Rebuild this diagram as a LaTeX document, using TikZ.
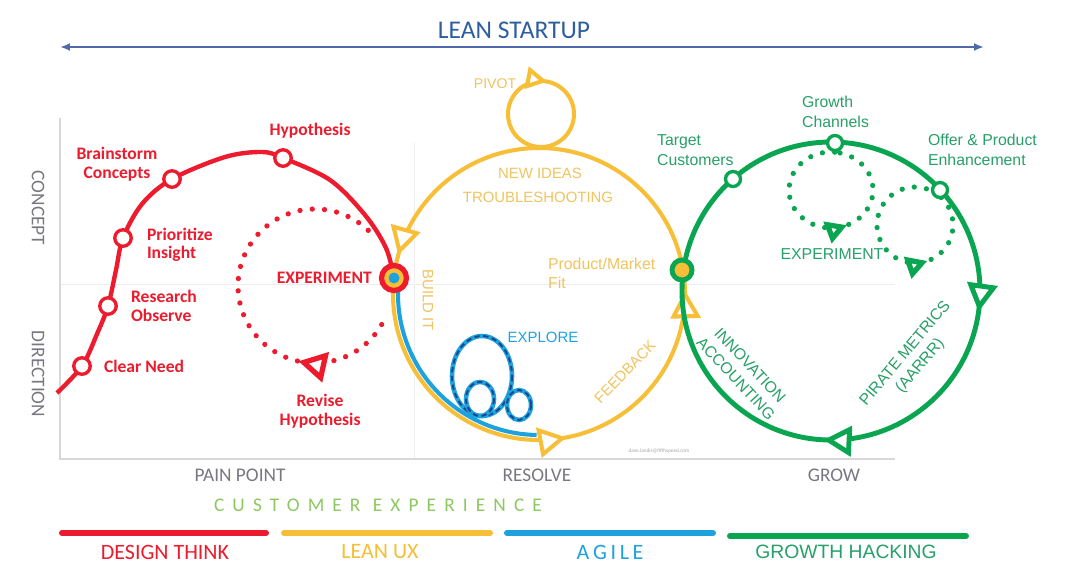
\documentclass[tikz,border=0pt]{standalone}
\usepackage{fontspec}
\setmainfont{Carlito}
\newfontfamily\arialfont{Liberation Sans}
\newfontfamily\widefont[LetterSpace=42]{Carlito}
\usetikzlibrary{arrows.meta}
\usetikzlibrary{positioning}
\usetikzlibrary{decorations.markings}
\usetikzlibrary{backgrounds}

\definecolor{lsred}{RGB}{236,28,46}
\definecolor{lsyellow}{RGB}{247,190,55}
\definecolor{lsyellowtxt}{RGB}{240,196,95}
\definecolor{lsblue}{RGB}{30,162,222}
\definecolor{lsnavy}{RGB}{25,70,140}
\definecolor{lsgreen}{RGB}{10,165,80}
\definecolor{lsgreentxt}{RGB}{40,160,105}
\definecolor{lstitle}{RGB}{45,95,160}
\definecolor{lsspan}{RGB}{80,105,170}
\definecolor{lsgray}{RGB}{120,120,130}
\definecolor{lsframe}{RGB}{215,215,220}
\definecolor{lslime}{RGB}{140,200,95}

\begin{document}
\begin{tikzpicture}[x=0.02cm, y=-0.02cm,
    >={Triangle[open,fill=white,length=5.6mm,width=6mm]},
    redpt/.style = {circle, draw=lsred, fill=white, line width=1.9pt,
                    minimum size=3.3mm, inner sep=0pt},
    greenpt/.style = {redpt, draw=lsgreen, minimum size=3mm},
    redlbl/.style = {text=lsred, font=\bfseries\fontsize{10}{10.5}\selectfont,
                     align=left, inner sep=1pt},
    greenlbl/.style = {text=lsgreentxt, font=\arialfont\fontsize{9}{11}\selectfont,
                       align=left, inner sep=1pt},
    yellowlbl/.style = {text=lsyellowtxt, font=\arialfont\fontsize{8.5}{10.5}\selectfont,
                        inner sep=1pt},
    axislbl/.style = {text=lsgray, font=\fontsize{11}{12}\selectfont},
    barlbl/.style = {font=\fontsize{12.5}{13}\selectfont},
    bar/.style = {line width=3.4pt, line cap=round},
    dotted loop/.style = {line width=3pt, line cap=round, dash pattern=on 0pt off 7pt},
    coil/.style = {draw=lsblue, line width=2.6pt,
                   postaction={draw=lsnavy, line width=1.1pt, dash pattern=on 3pt off 2pt}},
    flowtip/.style = {postaction={decorate, decoration={markings,
                      mark=at position #1 with {\arrow{>}}}}},
    smalltip/.style = {postaction={decorate, decoration={markings,
                      mark=at position #1 with
                      {\arrow{Triangle[open,fill=white,length=4.2mm,width=4.4mm]}}}}}]
  \useasboundingbox (0,0) rectangle (1071,579);

  % title
  \node (title) [text=lstitle, font=\fontsize{14.5}{15}\selectfont] at (514,30) {LEAN STARTUP};
  \coordinate (span-l) at (60,47);
  \coordinate (span-r) at (984,47);
  \draw[{Latex[length=2mm,width=1.6mm]}-{Latex[length=2mm,width=1.6mm]},
        lsspan, line width=1.3pt] (span-l) -- (span-r);

  \node (concept) [axislbl, rotate=-90] at (38,208) {CONCEPT};
  \node (direction) [axislbl, rotate=-90] at (38,374) {DIRECTION};

  % design think
  \node (need) [redpt] at (82,366) {};
  \node (research) [redpt] at (108,306) {};
  \node (prior) [redpt] at (123,238) {};
  \node (brain) [redpt] at (172,179) {};
  \node (hyp) [redpt] at (283,158) {};
  \node (exp) [circle, draw=lsred, fill=lsyellow, line width=3pt,
               minimum size=5mm, inner sep=0pt] at (394,278) {};
  \node (expcore) [circle, fill=lsblue, minimum size=2.2mm, inner sep=0pt] at (exp) {};

  \node (needlbl) [redlbl, right=0.2cm of need] {Clear Need};
  \node (researchlbl) [redlbl, right=0.22cm of research] {Research\\Observe};
  \node (priorlbl) [redlbl, right=0.24cm of prior, yshift=-4pt] {Prioritize\\Insight};
  \node (brainlbl) [redlbl, align=center] at (117,164) {Brainstorm\\Concepts};
  \node (hyplbl) [redlbl] at (310,131) {Hypothesis};
  \node (explbl) [redlbl, left=0.1cm of exp] {EXPERIMENT};
  \node (revise) [redlbl, align=center] at (320,411) {Revise\\Hypothesis};

  \coordinate (rcen) at (315,286);
  \coordinate (ycen) at (539,294);
  \coordinate (pcen) at (541,114);
  \coordinate (gcen) at (831,291);

  \begin{scope}[on background layer]
    \fill[white] (0,0) rectangle (1071,579);
    % chart frame
    \draw[lsframe!45, line width=0.5pt] (60,284) -- (895,284);
    \draw[lsframe!45, line width=0.5pt] (414,143) -- (414,459);
    \draw[lsframe, line width=0.7pt] (60,118) -- (60,459) -- (895,459);

    \draw[lsred, line width=2.5pt] plot[smooth, tension=0.55] coordinates {
      (57,393) (need) (97,334) (research) (116,270) (prior) (142,204) (brain)
      (225,157) (262,152) (hyp) (330,180) (365,215) (386,248) (exp)};
    \draw[lsred, dotted loop, flowtip=0.25]
      (rcen) ++(30:77) arc[start angle=30, end angle=320, radius=77];

    % lean ux
    \draw[lsyellow, line width=2.3pt, flowtip=0.207, flowtip=0.53, flowtip=0.754]
      (ycen) ++(270:146) arc[start angle=270, end angle=-90, radius=146];
    \draw[lsyellow, line width=2.3pt, smalltip=0.53]
      (pcen) ++(90:33) arc[start angle=90, end angle=450, radius=33];

    % agile
    \draw[lsblue, line width=2.3pt]
      (ycen) ++(186:141) arc[start angle=186, end angle=91, radius=141];
    \draw[coil] (482,376) ellipse[x radius=30, y radius=40];
    \draw[coil] (480,399) ellipse[x radius=14, y radius=17];
    \draw[coil] (519,405) ellipse[x radius=12, y radius=15];

    % growth hacking
    \draw[lsgreen, line width=2.8pt, flowtip=0.522, flowtip=0.758]
      (gcen) ++(180:149) arc[start angle=180, end angle=540, radius=149];
    \draw[lsgreen, dotted loop, smalltip=0.58]
      (831,190) ++(275:42 and 38) arc[start angle=275, end angle=-85, x radius=42, y radius=38];
    \draw[lsgreen, dotted loop, smalltip=0.653]
      (915,225) ++(306:38) arc[start angle=306, end angle=-54, radius=38];
  \end{scope}

  \node (pivot) [yellowlbl, font=\arialfont\fontsize{8}{9}\selectfont] at (495,84) {PIVOT};
  \node (ideas) [yellowlbl] at (540,173) {NEW IDEAS};
  \node (trouble) [yellowlbl] at (538,197) {TROUBLESHOOTING};
  \node (pmflbl) [yellowlbl, font=\arialfont\fontsize{9}{11}\selectfont,
                  anchor=west, align=left] at (546,273) {Product/Market\\Fit};
  \node (build) [yellowlbl, rotate=-90] at (428,300) {BUILD IT};
  \node (feedback) [yellowlbl, rotate=46] at (625,372) {FEEDBACK};
  \node (explore) [yellowlbl, text=lsblue] at (543,337) {EXPLORE};
  \node (credit) [text=gray!70, font=\fontsize{3}{3}\selectfont] at (659,451) {dave.landis@fifthspeed.com};

  \node (pmf) [circle, draw=lsgreen, fill=lsyellow, line width=2.8pt,
               minimum size=4mm, inner sep=0pt] at (682,270) {};
  \node (target) [greenpt] at (733,179) {};
  \node (channels) [greenpt] at (835,143) {};
  \node (offer) [greenpt] at (940,190) {};

  \node (targetlbl) [greenlbl, anchor=west] at (655,150) {Target\\Customers};
  \node (channelslbl) [greenlbl, anchor=west] at (800,112) {Growth\\Channels};
  \node (offerlbl) [greenlbl, anchor=west] at (926,150) {Offer \& Product\\Enhancement};
  \node (gexp) [greenlbl] at (832,254) {EXPERIMENT};
  \node (innov) [greenlbl, align=center, rotate=-47] at (743,372) {INNOVATION\\ACCOUNTING};
  \node (pirate) [greenlbl, align=center, rotate=50] at (913,360) {PIRATE METRICS\\(AARRR)};

  % phases
  \node (pain) [axislbl] at (240,475) {PAIN POINT};
  \node (resolve) [axislbl] at (537,475) {RESOLVE};
  \node (grow) [axislbl] at (834,475) {GROW};
  \node (cx) [text=lslime, font=\widefont\fontsize{11}{12}\selectfont] at (378,505) {CUSTOMER EXPERIENCE};

  \draw[bar, lsred] (62,533) -- (266,533);
  \draw[bar, lsyellow] (284,533) -- (490,533);
  \draw[bar, lsblue] (507,533) -- (713,533);
  \draw[bar, lsgreen] (730,536) -- (966,536);
  \node (design) [barlbl, text=lsred] at (165,552) {DESIGN THINK};
  \node (leanux) [barlbl, text=lsyellow] at (380,552) {LEAN UX};
  \node (agile) [barlbl, text=lsblue] at (610,552) {A\,G\,I\,L\,E};
  \node (hacking) [barlbl, text=lsgreentxt, font=\arialfont\fontsize{11}{12}\selectfont]
    at (846,552) {GROWTH HACKING};
\end{tikzpicture}
\end{document}
